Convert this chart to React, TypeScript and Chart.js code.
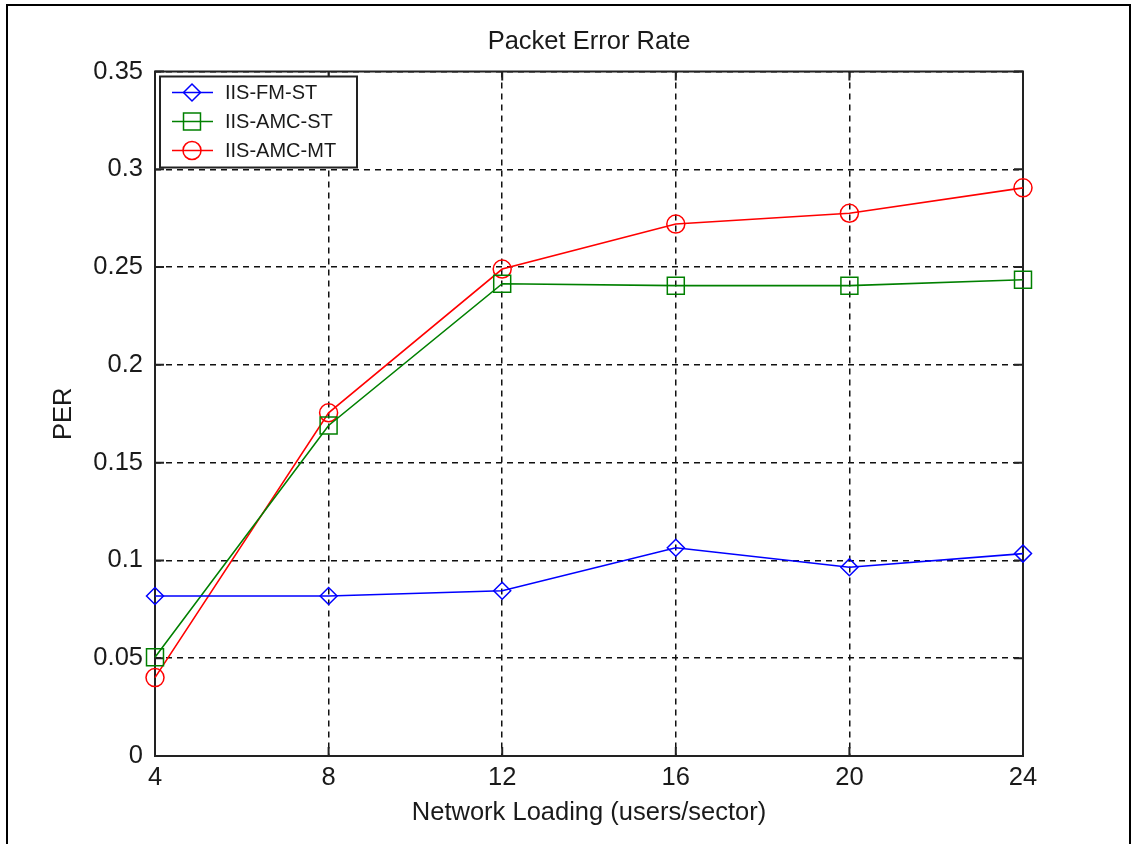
import React, { useEffect, useRef } from 'react';
import { Chart, registerables } from 'chart.js';
import { drawPoint } from 'chart.js/helpers';

Chart.register(...registerables);

const xValues = [4, 8, 12, 16, 20, 24];
const seriesNames = ['IIS-FM-ST', 'IIS-AMC-ST', 'IIS-AMC-MT'];
const fmSt = [0.0818, 0.0818, 0.0845, 0.1065, 0.0965, 0.1035];
const amcSt = [0.0505, 0.169, 0.2415, 0.2405, 0.2405, 0.2435];
const amcMt = [0.0401, 0.1755, 0.249, 0.272, 0.2775, 0.2905];
const seriesColors = ['#0000FF', '#008000', '#FF0000'];
const seriesMarkers = ['rectRot', 'rect', 'circle'];
const seriesRadius = [8.5, 12, 9];
const chartTitle = 'Packet Error Rate';
const xTitle = 'Network Loading (users/sector)';
const yTitle = 'PER';

const FONT = '"Liberation Sans", Arial, sans-serif';
const TEXT = '#1a1a1a';

const matlabPlugin = {
  id: 'matlabDecor',
  beforeDatasetsDraw(chart: any) {
    const { ctx, chartArea: a, scales } = chart;
    ctx.save();
    ctx.setLineDash([]);
    ctx.strokeStyle = '#222';
    ctx.lineWidth = 2;
    ctx.strokeRect(a.left, a.top, a.right - a.left, a.bottom - a.top);
    const tl = 9;
    ctx.beginPath();
    scales.x.ticks.forEach((t: any) => {
      const px = scales.x.getPixelForValue(t.value);
      ctx.moveTo(px, a.bottom);
      ctx.lineTo(px, a.bottom - tl);
      ctx.moveTo(px, a.top);
      ctx.lineTo(px, a.top + tl);
    });
    scales.y.ticks.forEach((t: any) => {
      const py = scales.y.getPixelForValue(t.value);
      ctx.moveTo(a.left, py);
      ctx.lineTo(a.left + tl, py);
      ctx.moveTo(a.right, py);
      ctx.lineTo(a.right - tl, py);
    });
    ctx.stroke();
    ctx.restore();
  },
  afterDatasetsDraw(chart: any) {
    const { ctx, chartArea: a } = chart;
    const datasets = chart.data.datasets;
    const left = a.left + 5;
    const top = a.top + 5;
    const w = 197;
    const h = 91;
    ctx.save();
    ctx.fillStyle = '#ffffff';
    ctx.fillRect(left, top, w, h);
    ctx.strokeStyle = '#222';
    ctx.lineWidth = 2;
    ctx.setLineDash([]);
    ctx.strokeRect(left, top, w, h);
    datasets.forEach((ds: any, i: number) => {
      const y = top + 16 + i * 29;
      ctx.strokeStyle = ds.borderColor;
      ctx.lineWidth = 1.5;
      ctx.beginPath();
      ctx.moveTo(left + 12, y);
      ctx.lineTo(left + 53, y);
      ctx.stroke();
      ctx.fillStyle = 'rgba(0,0,0,0)';
      ctx.strokeStyle = ds.borderColor;
      ctx.lineWidth = 1.5;
      drawPoint(ctx, { pointStyle: ds.pointStyle, radius: ds.pointRadius, rotation: 0, borderWidth: 1.5 }, left + 32, y);
      ctx.fillStyle = TEXT;
      ctx.font = `20px ${FONT}`;
      ctx.textAlign = 'left';
      ctx.textBaseline = 'middle';
      ctx.fillText(ds.label, left + 65, y + 1);
    });
    ctx.restore();
  },
  afterDraw(chart: any) {
    const { ctx, chartArea: a } = chart;
    ctx.save();
    ctx.fillStyle = TEXT;
    ctx.font = `25.5px ${FONT}`;
    ctx.textAlign = 'center';
    ctx.textBaseline = 'middle';
    ctx.fillText(chartTitle, (a.left + a.right) / 2, a.top - 29.5);
    ctx.restore();
  },
};

export default function App() {
  const canvasRef = useRef<HTMLCanvasElement | null>(null);

  useEffect(() => {
    const canvas = canvasRef.current;
    if (!canvas) return;
    const allSeries = [fmSt, amcSt, amcMt];
    const chart = new Chart(canvas, {
      type: 'line',
      data: {
        datasets: allSeries.map((vals, i) => ({
          label: seriesNames[i],
          data: vals.map((v, j) => ({ x: xValues[j], y: v })),
          borderColor: seriesColors[i],
          backgroundColor: 'rgba(0,0,0,0)',
          borderWidth: 1.6,
          pointStyle: seriesMarkers[i] as any,
          pointRadius: seriesRadius[i],
          pointBorderWidth: 1.5,
          pointBackgroundColor: 'rgba(0,0,0,0)',
          pointBorderColor: seriesColors[i],
          tension: 0,
          fill: false,
          clip: false as any,
        })),
      },
      options: {
        responsive: true,
        maintainAspectRatio: false,
        animation: false,
        events: [],
        layout: { padding: { top: 71.5, right: 110, left: 0, bottom: 0 } },
        plugins: {
          legend: { display: false },
          tooltip: { enabled: false },
          title: { display: false },
        },
        scales: {
          x: {
            type: 'linear',
            min: 4,
            max: 24,
            afterFit: (s: any) => {
              s.height = 88;
            },
            ticks: {
              stepSize: 4,
              color: TEXT,
              padding: 7,
              maxRotation: 0,
              font: { family: FONT, size: 25.5 },
            },
            grid: { color: '#111', lineWidth: 1.5, drawTicks: false },
            border: { display: false, dash: [6, 5] },
            title: {
              display: true,
              text: xTitle,
              color: TEXT,
              font: { family: FONT, size: 25.5 },
              padding: { top: 0, bottom: 15.5 },
            },
          },
          y: {
            type: 'linear',
            min: 0,
            max: 0.35,
            afterFit: (s: any) => {
              s.width = 155;
            },
            ticks: {
              stepSize: 0.05,
              color: TEXT,
              padding: 12,
              font: { family: FONT, size: 25.5 },
              callback: (v: any) => String(Number(Number(v).toFixed(2))),
            },
            grid: { color: '#111', lineWidth: 1.5, drawTicks: false },
            border: { display: false, dash: [6, 5] },
            title: {
              display: true,
              text: yTitle,
              color: TEXT,
              font: { family: FONT, size: 25.5 },
              padding: { top: 48.5, bottom: 0 },
            },
          },
        },
      },
      plugins: [matlabPlugin],
    });
    return () => chart.destroy();
  }, []);

  return (
    <div
      style={{
        position: 'fixed',
        left: 0,
        top: 0,
        width: 1133,
        height: 844,
        background: '#ffffff',
        overflow: 'hidden',
      }}
    >
      <canvas ref={canvasRef} style={{ display: 'block' }} />
      <div
        style={{
          position: 'absolute',
          left: 6,
          top: 4,
          width: 1125,
          height: 900,
          border: '2.5px solid #000',
          boxSizing: 'border-box',
          pointerEvents: 'none',
        }}
      />
    </div>
  );
}
